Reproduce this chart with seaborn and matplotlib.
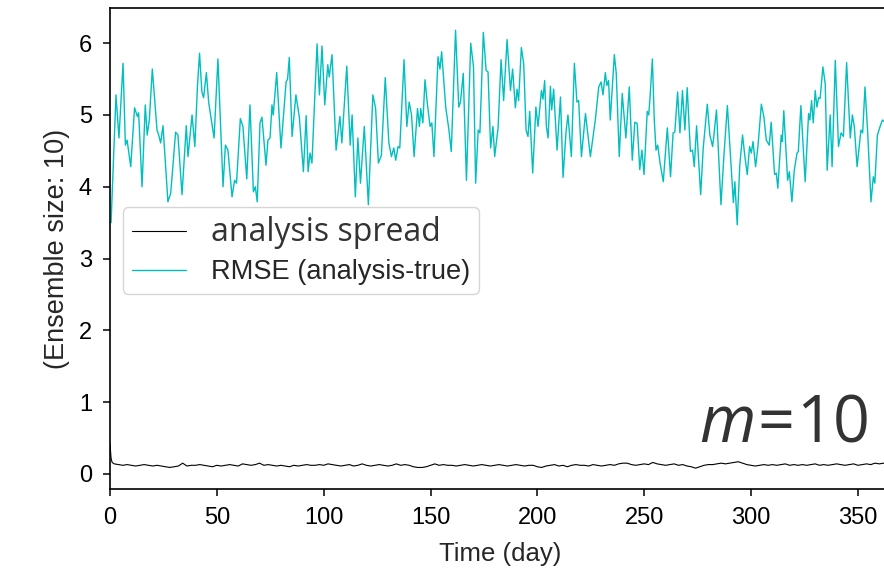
import matplotlib
matplotlib.use("Agg")
import matplotlib.pyplot as plt
import seaborn as sns

# ---- data ----
rmse_day = [
    0.5, 2.8, 4.2, 6.1, 7.2, 8.0, 9.7, 11.5, 12.8, 13.4,
    15.0, 16.5, 17.4, 18.4, 19.8, 22.0, 22.8, 23.7, 24.8, 27.1,
    28.4, 30.7, 31.8, 33.7, 35.7, 36.5, 38.4, 39.7, 40.9, 41.9,
    43.0, 43.8, 45.1, 46.2, 48.7, 50.5, 52.9, 54.0, 55.2, 57.1,
    58.3, 59.2, 61.0, 62.2, 64.0, 65.5, 67.1, 68.0, 68.9, 70.2,
    71.1, 73.0, 73.9, 74.9, 75.8, 76.4, 78.0, 80.0, 82.4, 83.1,
    83.9, 85.2, 87.0, 88.6, 90.5, 91.8, 92.7, 93.6, 94.5, 96.9,
    98.0, 99.2, 100.5, 101.9, 102.6, 103.9, 105.8, 107.6, 108.5, 110.8,
    112.4, 113.3, 114.8, 116.0, 117.2, 119.0, 120.9, 123.0, 124.3, 125.6,
    127.0, 128.8, 130.5, 131.7, 132.8, 133.7, 134.8, 135.6, 137.6, 138.9,
    140.0, 141.1, 142.3, 143.9, 144.8, 145.4, 146.4, 147.4, 148.5, 149.8,
    150.6, 151.6, 153.5, 154.4, 155.2, 157.1, 158.6, 159.7, 161.7, 163.2,
    164.0, 165.3, 166.8, 168.8, 170.1, 171.1, 172.3, 173.1, 174.7, 176.0,
    176.9, 178.1, 179.2, 180.0, 181.6, 183.0, 184.2, 185.8, 187.4, 188.4,
    189.7, 190.5, 191.2, 192.5, 193.6, 194.7, 195.6, 196.4, 197.8, 199.3,
    200.3, 201.9, 202.6, 203.4, 204.2, 205.0, 206.1, 206.7, 207.6, 209.2,
    210.8, 212.0, 213.4, 214.3, 215.9, 217.3, 218.5, 219.3, 220.6, 222.5,
    224.8, 227.1, 228.7, 229.8, 230.7, 231.8, 232.5, 233.3, 234.1, 236.0,
    236.9, 238.3, 239.7, 241.4, 243.0, 244.4, 245.6, 246.7, 247.9, 248.9,
    249.9, 251.4, 252.1, 252.7, 253.8, 254.7, 255.5, 256.3, 257.4, 258.9,
    260.8, 262.3, 263.5, 264.3, 265.6, 266.7, 267.9, 269.0, 270.1, 271.6,
    272.6, 273.4, 274.5, 276.4, 277.6, 279.5, 280.7, 282.0, 282.6, 283.8,
    285.9, 287.3, 288.9, 290.1, 291.7, 292.4, 293.5, 294.7, 296.0, 297.1,
    298.2, 299.3, 300.1, 300.9, 302.1, 303.2, 304.8, 306.0, 307.1, 308.5,
    309.4, 311.0, 311.8, 312.5, 314.1, 314.6, 315.3, 317.1, 317.9, 319.1,
    320.2, 321.5, 322.1, 323.3, 325.3, 326.9, 327.5, 328.3, 329.1, 330.0,
    330.8, 331.6, 332.3, 333.6, 334.7, 335.6, 337.0, 337.9, 339.4, 340.9,
    342.1, 343.2, 344.7, 346.4, 347.4, 348.3, 349.6, 351.4, 352.2, 353.3,
    354.5, 356.1, 357.2, 357.9, 359.1, 360.7, 361.5, 362.5, 363.5, 365.0,
]
rmse_val = [
    3.50, 5.28, 4.68, 5.72, 4.58, 4.65, 4.28, 5.10, 4.98, 5.03,
    4.00, 5.14, 4.72, 4.93, 5.64, 4.79, 4.72, 4.61, 4.85, 3.79,
    3.91, 4.76, 4.72, 3.89, 4.85, 4.42, 5.00, 4.56, 5.39, 5.86,
    5.32, 5.24, 5.59, 5.17, 4.68, 5.78, 4.00, 4.58, 4.51, 3.86,
    4.09, 4.05, 4.95, 4.84, 4.11, 5.14, 3.93, 4.00, 3.79, 4.89,
    4.97, 4.30, 4.65, 4.68, 5.14, 5.00, 5.59, 4.54, 5.46, 5.50,
    5.80, 4.70, 5.28, 4.97, 4.21, 4.99, 4.21, 4.47, 4.33, 5.99,
    5.28, 5.96, 5.14, 5.70, 5.53, 5.84, 4.51, 4.98, 4.61, 5.68,
    4.58, 5.00, 3.86, 4.68, 4.05, 4.84, 3.75, 5.28, 5.09, 4.33,
    4.44, 5.52, 4.61, 4.42, 4.54, 4.37, 4.56, 4.54, 5.77, 4.84,
    5.18, 5.00, 4.42, 5.09, 4.84, 5.09, 4.89, 5.49, 5.16, 4.84,
    4.89, 4.42, 5.81, 5.64, 5.88, 5.11, 4.79, 4.49, 6.18, 5.11,
    5.18, 5.58, 4.09, 6.00, 5.67, 4.05, 4.79, 4.75, 6.15, 5.62,
    5.60, 4.54, 4.84, 4.42, 4.82, 5.77, 5.20, 6.05, 5.34, 5.64,
    5.10, 5.36, 5.20, 5.94, 5.71, 4.79, 4.70, 5.05, 4.19, 5.11,
    4.84, 5.34, 5.22, 5.48, 4.84, 4.68, 5.40, 5.07, 5.36, 4.51,
    5.25, 4.13, 4.77, 5.00, 4.42, 5.72, 5.18, 5.20, 4.42, 5.02,
    4.42, 4.93, 5.39, 5.46, 5.28, 5.59, 5.41, 5.48, 4.93, 5.84,
    5.58, 4.42, 5.30, 4.68, 5.39, 4.37, 4.90, 4.88, 4.24, 4.51,
    4.17, 5.05, 5.00, 5.24, 5.78, 4.93, 4.51, 4.58, 4.33, 4.07,
    4.82, 4.14, 4.75, 4.76, 5.32, 4.75, 5.34, 4.79, 5.38, 4.49,
    4.51, 4.28, 4.85, 3.89, 4.54, 5.15, 4.72, 4.56, 4.72, 5.07,
    3.75, 4.44, 5.13, 4.56, 3.78, 4.07, 3.47, 4.30, 4.72, 4.42,
    4.17, 4.56, 4.47, 4.63, 4.28, 4.56, 5.15, 4.97, 4.65, 4.58,
    4.90, 4.17, 4.19, 3.98, 4.72, 4.63, 5.06, 4.09, 4.21, 3.79,
    4.23, 4.47, 4.49, 5.13, 4.07, 5.02, 4.93, 5.20, 4.89, 5.34,
    5.11, 5.24, 5.23, 5.67, 5.43, 4.23, 5.00, 4.28, 5.76, 4.56,
    4.75, 4.70, 5.73, 4.68, 5.00, 4.84, 4.28, 4.79, 4.75, 5.39,
    4.79, 3.79, 4.14, 4.05, 4.72, 4.87, 4.93, 4.90, 4.95, 4.88,
]

spread_day = [0, 0.5, 1] + list(range(2, 366, 2))
spread_val = [
    0.42, 0.22, 0.16,
    0.14, 0.13, 0.12, 0.13, 0.12, 0.11, 0.12, 0.13, 0.12, 0.11,
    0.12, 0.11, 0.10, 0.09, 0.10, 0.11, 0.15, 0.11, 0.12, 0.12,
    0.13, 0.12, 0.11, 0.10, 0.12, 0.11, 0.12, 0.13, 0.12, 0.11,
    0.14, 0.13, 0.12, 0.13, 0.15, 0.12, 0.13, 0.12, 0.11, 0.12,
    0.11, 0.10, 0.12, 0.11, 0.12, 0.13, 0.12, 0.12, 0.13, 0.12,
    0.14, 0.13, 0.12, 0.11, 0.12, 0.13, 0.11, 0.12, 0.14, 0.12,
    0.11, 0.12, 0.13, 0.12, 0.11, 0.12, 0.14, 0.12, 0.13, 0.12,
    0.10, 0.09, 0.09, 0.10, 0.12, 0.14, 0.12, 0.13, 0.12, 0.12,
    0.11, 0.12, 0.13, 0.12, 0.11, 0.12, 0.13, 0.12, 0.11, 0.12,
    0.13, 0.12, 0.11, 0.12, 0.13, 0.12, 0.11, 0.12, 0.12, 0.10,
    0.09, 0.11, 0.12, 0.13, 0.11, 0.12, 0.10, 0.12, 0.13, 0.12,
    0.12, 0.11, 0.13, 0.12, 0.11, 0.12, 0.13, 0.12, 0.14, 0.15,
    0.15, 0.13, 0.12, 0.13, 0.14, 0.13, 0.16, 0.14, 0.13, 0.12,
    0.13, 0.14, 0.12, 0.13, 0.11, 0.10, 0.08, 0.10, 0.12, 0.13,
    0.13, 0.14, 0.15, 0.14, 0.15, 0.16, 0.17, 0.15, 0.13, 0.12,
    0.11, 0.12, 0.13, 0.12, 0.13, 0.12, 0.13, 0.14, 0.12, 0.13,
    0.12, 0.13, 0.12, 0.13, 0.14, 0.12, 0.13, 0.12, 0.13, 0.14,
    0.13, 0.12, 0.13, 0.14, 0.12, 0.13, 0.14, 0.13, 0.15, 0.14,
    0.15, 0.14,
]

x_ticks = [0, 50, 100, 150, 200, 250, 300, 350]
y_ticks = [0, 1, 2, 3, 4, 5, 6]
labels = ["analysis spread", "RMSE (analysis-true)"]
x_label = "Time (day)"
y_label = "(Ensemble size: 10)"
annot = r"$m\!=\!10$"

# ---- style ----
sns.set_style("ticks")
plt.rcParams["font.family"] = ["Liberation Sans", "DejaVu Sans"]
plt.rcParams["mathtext.fontset"] = "custom"
plt.rcParams["mathtext.it"] = "Open Sans:italic"
plt.rcParams["mathtext.rm"] = "Open Sans"

W, H = 884, 571
fig = plt.figure(figsize=(W / 100, H / 100), dpi=100)
ax = fig.add_axes([110 / W, 82 / H, 780 / W, 481 / H])

sns.lineplot(x=spread_day, y=spread_val, color="k", linewidth=0.8,
             label=labels[0], estimator=None, ax=ax)
sns.lineplot(x=rmse_day, y=rmse_val, color="c", linewidth=1.0,
             label=labels[1], estimator=None, ax=ax)

ax.set_xlim(0, 365)
ax.set_ylim(-0.21, 6.49)
ax.set_xticks(x_ticks)
ax.set_yticks(y_ticks)
ax.tick_params(labelsize=17, length=5, width=1.1, colors="k", pad=8)
for s in ax.spines.values():
    s.set_linewidth(1.2)
    s.set_color("k")

ax.set_xlabel(x_label, fontsize=18.5, labelpad=9)
ax.set_ylabel(y_label, fontsize=19.5, labelpad=6)

leg = ax.legend(loc="upper left", bbox_to_anchor=(0.0167, 0.586),
                borderaxespad=0, fontsize=19.6, frameon=True, fancybox=True,
                edgecolor="#cccccc", framealpha=0.8, borderpad=0.32,
                labelspacing=0.38, handletextpad=0.9)
t0 = leg.get_texts()[0]
t0.set_fontfamily("Open Sans")
t0.set_fontsize(23)
t0.set_color("#333333")

ax.text(355, 0.445, annot, fontsize=46.5, color="#333333",
        ha="right", va="baseline")

fig.savefig("out.png", dpi=100)
